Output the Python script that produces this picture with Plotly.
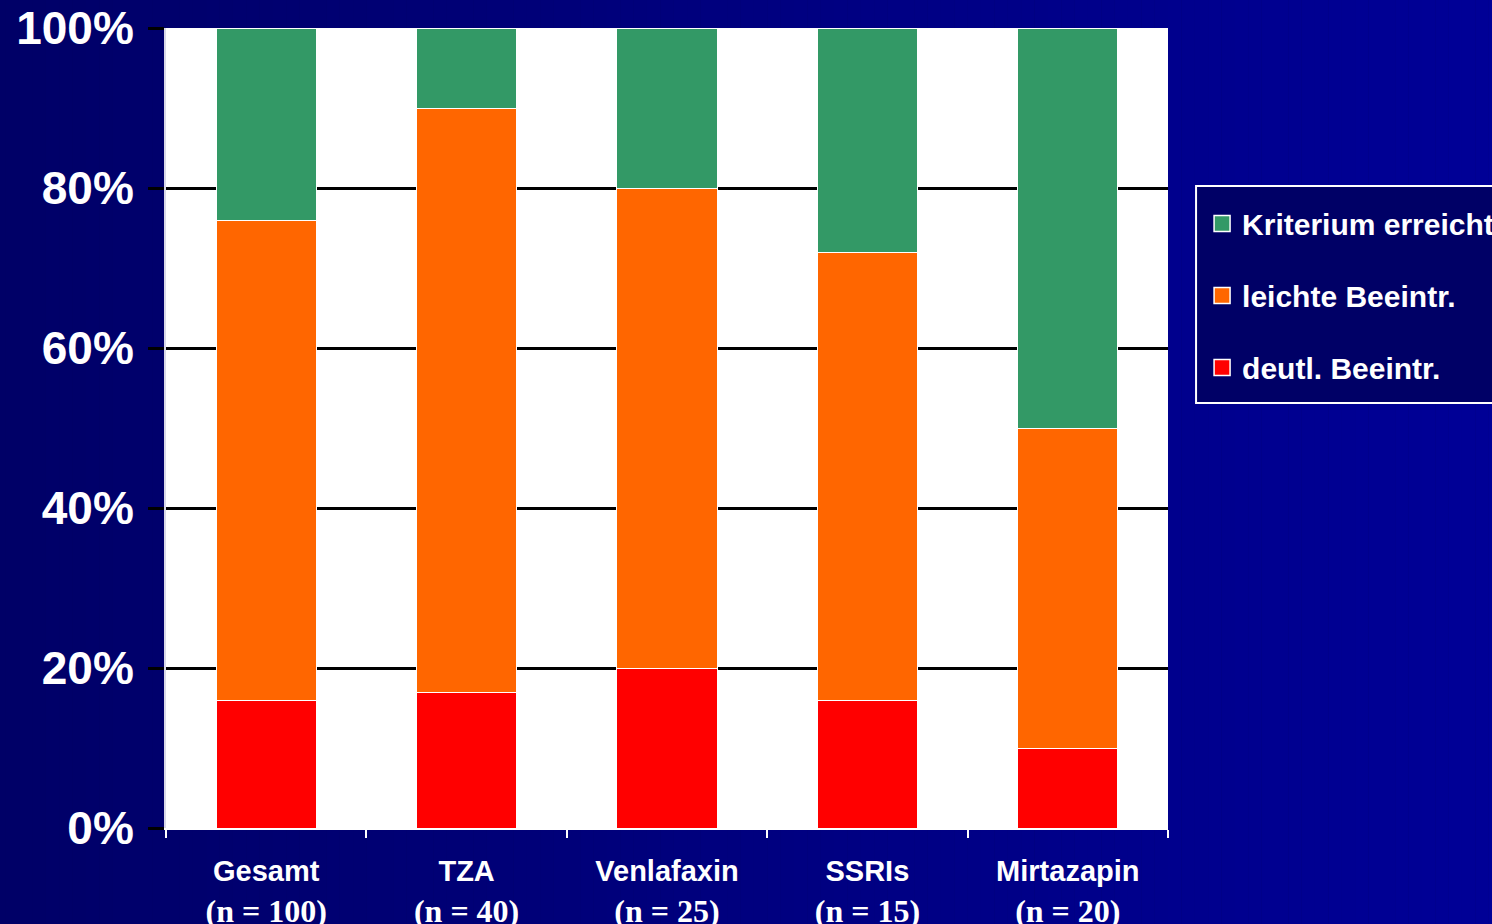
import plotly.graph_objects as go

# Category labels: drug group name (bold sans) over the sample size (bold serif)
groups = ["Gesamt", "TZA", "Venlafaxin", "SSRIs", "Mirtazapin"]
sample_sizes = ["(n = 100)", "(n = 40)", "(n = 25)", "(n = 15)", "(n = 20)"]

# Percent of patients per outcome category (stacked bottom -> top)
deutl_beeintr = [16, 17, 20, 16, 10]
leichte_beeintr = [60, 73, 60, 56, 40]
kriterium_erreicht = [24, 10, 20, 28, 50]

y_ticks = [0, 20, 40, 60, 80, 100]
y_tick_text = ["0%", "20%", "40%", "60%", "80%", "100%"]

# (name, values, colour, legend rank)
series = [
    ("deutl. Beeintr.", deutl_beeintr, "#FF0000", 3),
    ("leichte Beeintr.", leichte_beeintr, "#FF6600", 2),
    ("Kriterium erreicht", kriterium_erreicht, "#339966", 1),
]

SANS = "Liberation Sans, Arial, sans-serif"
SERIF = "Liberation Serif, Times New Roman, serif"

x_labels = [
    f"<span style='font-size:29px'><b>{g}</b></span><br>"
    f"<span style='font-family:{SERIF};font-size:32px'><b>{n}</b></span>"
    for g, n in zip(groups, sample_sizes)
]

fig = go.Figure()
for name, vals, color, rank in series:
    fig.add_trace(go.Bar(
        x=x_labels, y=vals, name=name, legendgroup=name, showlegend=False,
        marker=dict(color=color, line=dict(color="white", width=1)),
    ))
    # legend entry with a larger square swatch for the same group
    fig.add_trace(go.Scatter(
        x=[None], y=[None], mode="markers", name=name, legendgroup=name,
        legendrank=rank, showlegend=True,
        marker=dict(symbol="square", size=16, color=color,
                    line=dict(color="white", width=1.5)),
    ))

# Horizontal navy-to-blue background gradient built from thin strips
n_strips = 120
c0, c1 = (0, 0, 102), (0, 0, 153)
shapes = []
for i in range(n_strips):
    t = i / (n_strips - 1)
    col = tuple(round(a + (b - a) * t) for a, b in zip(c0, c1))
    shapes.append(dict(
        type="rect", xref="paper", yref="paper", layer="below",
        x0=-0.2 + 1.6 * i / n_strips, x1=-0.2 + 1.6 * (i + 1.02) / n_strips,
        y0=-0.2, y1=1.1,
        fillcolor=f"rgb{col}", line=dict(width=0),
    ))
# white plotting area on top of the gradient
shapes.append(dict(
    type="rect", xref="x domain", yref="y domain", layer="below",
    x0=0, x1=1, y0=0, y1=1, fillcolor="white", line=dict(width=0),
))
# legend frame, running past the right edge of the page
shapes.append(dict(
    type="rect", xref="paper", yref="paper", layer="above",
    x0=1.028, x1=1.45, y0=0.53125, y1=0.8025,
    fillcolor="rgb(0,0,102)", line=dict(color="white", width=2),
))

fig.update_layout(
    width=1492, height=924,
    margin=dict(l=166, r=324, t=28, b=96, pad=0, autoexpand=False),
    paper_bgcolor="rgb(0,0,102)",
    plot_bgcolor="rgba(0,0,0,0)",
    barmode="stack",
    bargap=0.5,
    shapes=shapes,
    font=dict(family=SANS, color="white"),
    legend=dict(
        x=1.034, y=0.788, xanchor="left", yanchor="top",
        bgcolor="rgba(0,0,0,0)", borderwidth=0,
        font=dict(family=SANS, size=30, color="white", weight="bold"),
        traceorder="grouped", tracegroupgap=30,
        itemwidth=30,
    ),
    xaxis=dict(
        type="category",
        automargin=False,
        tickson="boundaries",
        ticks="outside", ticklen=8, tickwidth=2, tickcolor="white",
        showline=True, linecolor="white", linewidth=2,
        showgrid=False,
        tickfont=dict(family=SANS, size=31, color="white", weight="bold"),
        ticklabelstandoff=14,
    ),
    yaxis=dict(
        range=[0, 100],
        automargin=False,
        tickvals=y_ticks, ticktext=y_tick_text,
        ticks="outside", ticklen=16, tickwidth=3, tickcolor="black",
        showline=True, linecolor="#D8D8E8", linewidth=2,
        showgrid=True, gridcolor="black", gridwidth=3,
        zeroline=True, zerolinecolor="white", zerolinewidth=2,
        tickfont=dict(family=SANS, size=46, color="white", weight="bold"),
        ticklabelstandoff=5,
    ),
)

fig.write_html("out.html")
